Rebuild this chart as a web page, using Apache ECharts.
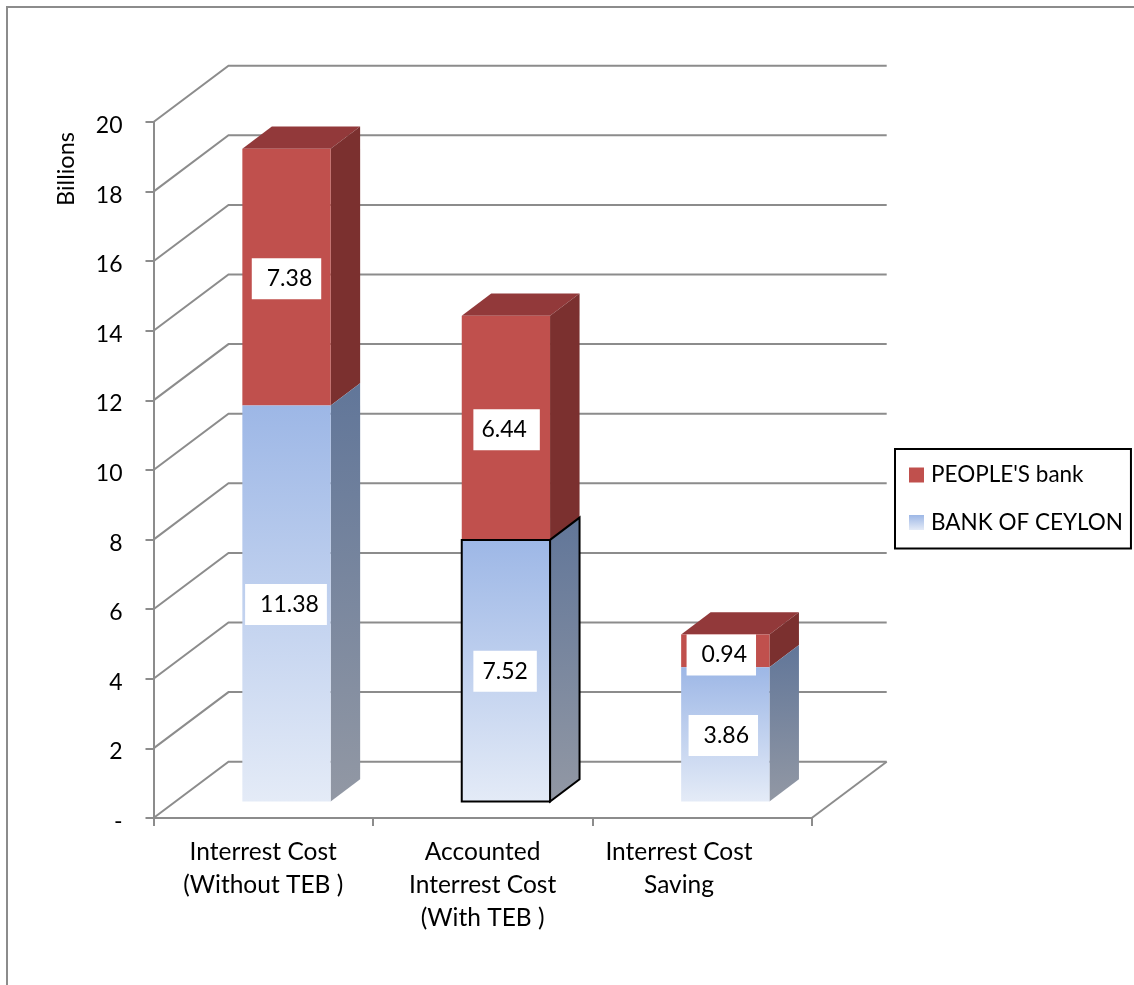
<!DOCTYPE html>
<html>
<head>
<meta charset="utf-8">
<style>html,body{margin:0;padding:0;background:#fff}#chart{width:1134px;height:985px}</style>
<script src="https://cdn.jsdelivr.net/npm/echarts@6/dist/echarts.min.js"></script>
</head>
<body>
<div id="chart"></div>
<script>
// Interest cost by bank, stacked in billions
const categories = ['Interrest Cost\n(Without TEB )', 'Accounted\nInterrest Cost\n(With TEB )', 'Interrest Cost\nSaving'];
const bankOfCeylon = [11.38, 7.52, 3.86];
const peoplesBank = [7.38, 6.44, 0.94];
const yTicks = [0, 2, 4, 6, 8, 10, 12, 14, 16, 18, 20];

const FONT = 'Lato';
const GRAY = '#8c8c8c';
// Depth of the floor and of each bar in the oblique projection
const WALL = { dx: 75, dy: -56.3 };
const BAR = { inset: { dx: 23.3, dy: -16.4 }, width: 88.3, dx: 29.5, dy: -22.3 };
// Value-label box placement per bar: [shift x, shift y, pad left, pad right]
const bankLabelBoxes = [[-0.5, 1, 15, 8], [-0.8, 0.5, 9, 9], [-2, 1, 15, 9]];
const peopleLabelBoxes = [[0, 1.5, 15, 9], [0.7, 2, 8, 13], [-4, 4, 15, 9]];

const grad = (x2, y2, c0, c1) => new echarts.graphic.LinearGradient(0, 0, x2, y2, [
  { offset: 0, color: c0 }, { offset: 1, color: c1 }
]);

function rows(base, values) {
  return values.map((v, i) => [i, base ? base[i] : 0, v]);
}

function segment(api) {
  const i = api.value(0), base = api.value(1), val = api.value(2);
  const cx = api.coord([i, 0])[0] + BAR.inset.dx;
  return {
    i, val, cx,
    yb: api.coord([i, base])[1] + BAR.inset.dy,
    yt: api.coord([i, base + val])[1] + BAR.inset.dy
  };
}

function renderWall(params, api) {
  const cs = params.coordSys;
  const y = api.coord([0, api.value(0)])[1];
  const x0 = cs.x, x1 = cs.x + cs.width;
  const children = [{
    type: 'polyline',
    shape: { points: [[x0, y], [x0 + WALL.dx, y + WALL.dy], [x1 + WALL.dx, y + WALL.dy]] },
    style: { stroke: GRAY, lineWidth: 2, fill: null }
  }];
  if (api.value(0) === 0) {
    children.push({
      type: 'line',
      shape: { x1: x1, y1: y, x2: x1 + WALL.dx, y2: y + WALL.dy },
      style: { stroke: GRAY, lineWidth: 2 }
    });
  }
  return { type: 'group', silent: true, children };
}

function barRenderer(look) {
  return function (params, api) {
    const { i, cx, yb, yt } = segment(api);
    const xl = cx - BAR.width / 2, xr = cx + BAR.width / 2;
    const outline = look.outlined === i ? { stroke: '#000', lineWidth: 2, lineJoin: 'miter' } : {};
    const children = [
      { type: 'polygon', shape: { points: [[xr, yt], [xr + BAR.dx, yt + BAR.dy], [xr + BAR.dx, yb + BAR.dy], [xr, yb]] },
        style: Object.assign({ fill: look.side }, outline) },
      { type: 'rect', shape: { x: xl, y: yt, width: BAR.width, height: yb - yt },
        style: Object.assign({ fill: look.front }, outline) }
    ];
    if (look.top) {
      children.unshift({ type: 'polygon',
        shape: { points: [[xl, yt], [xl + BAR.dx, yt + BAR.dy], [xr + BAR.dx, yt + BAR.dy], [xr, yt]] },
        style: { fill: look.top } });
    }
    return { type: 'group', children };
  };
}

function labelRenderer(boxes) {
  return function (params, api) {
    const { i, val, cx, yb, yt } = segment(api);
    const [sx, sy, padL, padR] = boxes[i];
    return {
      type: 'text', silent: true,
      style: {
        text: val.toFixed(2), x: cx + sx, y: (yt + yb) / 2 + sy,
        align: 'center', verticalAlign: 'middle',
        font: '23px ' + FONT, fill: '#000',
        backgroundColor: '#fff', padding: [11, padR, 7, padL]
      }
    };
  };
}

const redLook = { front: '#c0504d', top: '#92393a', side: '#7b302f', outlined: -1 };
const blueFront = grad(0, 1, '#9db7e6', '#e4ebf7');
const blueLook = { front: blueFront, side: grad(0.25, 1, '#617699', '#9298a4'), outlined: 1 };

const chart = echarts.init(document.getElementById('chart'), null, { renderer: 'canvas' });
chart.setOption({
  animation: false,
  backgroundColor: '#fff',
  textStyle: { fontFamily: FONT },
  graphic: [
    { type: 'rect', z: -1, shape: { x: 7, y: 7, width: 1300, height: 1200 },
      style: { fill: null, stroke: GRAY, lineWidth: 2 }, silent: true },
    { type: 'text', rotation: Math.PI / 2, x: 66, y: 169,
      style: { text: 'Billions', font: '23.5px ' + FONT, fill: '#000', align: 'center', verticalAlign: 'middle' } }
  ],
  grid: { left: 153.5, top: 122, width: 658.2, height: 696 },
  xAxis: {
    type: 'category',
    data: categories.map((c, i) => i === 2 ? { value: c, textStyle: { padding: [0, 46, 0, 0] } } : c),
    axisLine: { lineStyle: { color: GRAY, width: 2 } },
    axisTick: { show: true, length: 8, lineStyle: { color: GRAY, width: 2 } },
    axisLabel: { interval: 0, margin: 18, fontFamily: FONT, fontSize: 24.5, lineHeight: 33, color: '#000' },
    splitLine: { show: false }
  },
  yAxis: {
    type: 'value', min: 0, max: 20, interval: 2,
    axisLine: { show: true, lineStyle: { color: GRAY, width: 2 } },
    axisTick: { show: true, length: 8, lineStyle: { color: GRAY, width: 2 } },
    axisLabel: { margin: 31, fontFamily: FONT, fontSize: 23, color: '#000', verticalAlign: 'top', lineHeight: 7,
      formatter: v => v === 0 ? '-' : String(v) },
    splitLine: { show: false }
  },
  legend: {
    orient: 'vertical', left: 895, top: 449,
    padding: [14.5, 8, 14.5, 14], itemGap: 24.5, itemWidth: 15, itemHeight: 15,
    icon: 'rect', borderColor: '#000', borderWidth: 2, backgroundColor: '#fff',
    textStyle: { fontFamily: FONT, fontSize: 22.5, color: '#000', padding: [0, 0, 0, 2] },
    data: ["PEOPLE'S bank", 'BANK OF CEYLON'], selectedMode: false
  },
  series: [
    { type: 'custom', name: 'wall', silent: true, z: 1, renderItem: renderWall,
      data: yTicks.map(v => [v]), encode: { y: 0 } },
    { type: 'custom', name: "PEOPLE'S bank", z: 2, renderItem: barRenderer(redLook),
      itemStyle: { color: '#c0504d' }, data: rows(bankOfCeylon, peoplesBank), encode: { x: 0, y: 1 } },
    { type: 'custom', name: 'BANK OF CEYLON', z: 3, renderItem: barRenderer(blueLook),
      itemStyle: { color: blueFront }, data: rows(null, bankOfCeylon), encode: { x: 0, y: 2 } },
    { type: 'custom', name: 'people labels', z: 5, silent: true, renderItem: labelRenderer(peopleLabelBoxes),
      data: rows(bankOfCeylon, peoplesBank), encode: { x: 0, y: 1 } },
    { type: 'custom', name: 'bank labels', z: 5, silent: true, renderItem: labelRenderer(bankLabelBoxes),
      data: rows(null, bankOfCeylon), encode: { x: 0, y: 2 } }
  ]
});
</script>
</body>
</html>
